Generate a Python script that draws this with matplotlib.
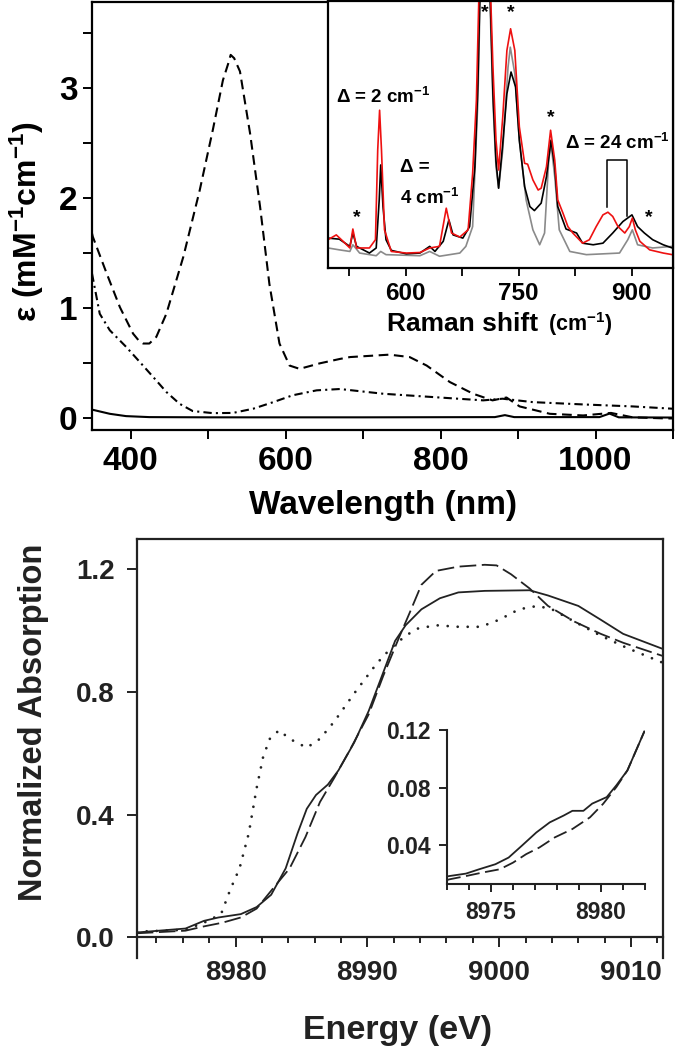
import matplotlib
matplotlib.use("Agg")
import matplotlib.pyplot as plt

plt.rcParams['font.family'] = ['Liberation Sans', 'DejaVu Sans']
plt.rcParams['font.weight'] = 'bold'
plt.rcParams['mathtext.fontset'] = 'custom'
plt.rcParams['mathtext.rm'] = 'Liberation Sans:bold'
plt.rcParams['mathtext.it'] = 'Liberation Sans:bold'
plt.rcParams['mathtext.bf'] = 'Liberation Sans:bold'
plt.rcParams['mathtext.default'] = 'rm'
plt.rcParams['lines.scale_dashes'] = False

# ---------------- UV-vis data (top) ----------------
uv_dash_x = [350, 351, 369, 386, 403, 410, 416, 424, 433, 446, 468, 489, 506, 519, 525.8, 529, 533.5, 541, 554,
             567, 579, 592, 605, 618, 644, 670, 683, 734, 760, 782, 812, 842, 867, 885, 902, 941, 984, 1020,
             1048, 1091, 1100]
uv_dash_y = [1.68, 1.65, 1.315, 1.01, 0.77, 0.71, 0.68, 0.68, 0.74, 0.95, 1.47, 2.07, 2.62, 3.07, 3.22, 3.30,
             3.27, 3.15, 2.59, 1.92, 1.22, 0.68, 0.48, 0.45, 0.50, 0.54, 0.557, 0.579, 0.557, 0.48, 0.33,
             0.224, 0.164, 0.19, 0.109, 0.042, 0.027, 0.05, 0.01, 0.0, 0.0]
uv_dashdot_x = [350, 360, 373, 394, 412, 429, 446, 463, 480, 506, 532, 558, 584, 609, 640, 670, 726, 790, 855,
                880, 919, 984, 1048, 1100]
uv_dashdot_y = [1.315, 0.95, 0.80, 0.65, 0.51, 0.376, 0.24, 0.133, 0.067, 0.048, 0.05, 0.088, 0.148, 0.21,
                0.255, 0.267, 0.224, 0.194, 0.164, 0.179, 0.148, 0.127, 0.109, 0.088]
uv_solid_x = [350, 373, 394, 424, 500, 700, 870, 883, 895, 1005, 1018, 1030, 1100]
uv_solid_y = [0.08, 0.042, 0.021, 0.012, 0.01, 0.01, 0.012, 0.03, 0.012, 0.012, 0.044, 0.01, 0.008]

# ---------------- Raman inset data ----------------
raman_gray_x = [497, 512, 526, 530, 535, 539, 561, 567, 574, 619, 632, 645, 672, 680, 689, 696, 700, 704, 708,
                712, 716, 720, 723.5, 729, 736, 739, 745, 751, 760, 769, 778, 784.5, 790, 793, 798, 804, 818,
                840, 884, 895, 901, 908, 928, 954]
raman_gray_y = [7.5, 6.8, 6.2, 8.7, 7.0, 5.6, 4.6, 6.2, 5.0, 4.6, 6.2, 4.4, 5.6, 8.1, 15.5, 62.8, 115, 140, 130,
                100, 62, 38, 29.9, 44.2, 75.2, 82.7, 72.8, 47.9, 25.5, 14.3, 8.7, 13.1, 40.4, 46.6, 34.2, 14.3,
                6.2, 5.0, 5.6, 10.6, 14.3, 8.7, 7.5, 8.1]
raman_black_x = [497, 512, 526, 530, 535, 552, 561, 565, 567, 570, 574, 581, 601, 619, 632, 639, 650, 657.5, 663,
                 676, 685, 692, 696, 700, 704, 708, 712, 716, 720, 723.5, 729, 734.5, 740, 746, 751, 758, 765,
                 771, 780, 787, 793, 798, 802, 813, 827, 835, 849, 862, 875, 888.5, 900.5, 908, 917, 928, 942, 954]
raman_black_y = [11.2, 10.8, 8.1, 13.1, 8.1, 5.6, 7.5, 25.5, 38.6, 23, 10.6, 6.6, 5.3, 5.6, 8.1, 6.2, 10, 18, 12.4,
                 11.2, 15.5, 37.9, 69, 120, 145, 135, 105, 65, 40, 29.9, 46.6, 65.3, 73.4, 67.8, 47.9, 30.5, 23,
                 21.5, 24.3, 34.2, 47.9, 37.9, 23, 14.6, 13.1, 9.3, 8.7, 9.3, 13.1, 17.4, 19.9, 15.5, 13.1, 10.6,
                 8.7, 7.5]
raman_red_x = [497, 508, 517, 526, 530, 535, 552, 560, 563, 565.5, 568, 572, 581, 601, 619, 632, 645, 654, 661,
               672, 683, 689, 694, 698, 703, 708, 712, 716, 720, 723.5, 729, 734.5, 739.4, 745, 751, 758, 762,
               769, 776, 780, 787, 792.5, 798, 802, 809, 815.5, 822, 835, 844, 853, 862, 868.6, 875, 882, 891,
               897, 901, 905, 911, 924, 942, 954]
raman_red_y = [10.6, 12.4, 10, 7.5, 14.6, 7.5, 7.5, 10.6, 44.2, 59.1, 44.2, 14.3, 6.2, 5.6, 5.8, 7.5, 8.1, 22.4,
               13.1, 11.6, 14.3, 35.4, 62.8, 110, 150, 140, 110, 75, 48, 36.7, 56.6, 81.5, 89.6, 81.5, 52.9, 39.2,
               38.9, 33, 29.2, 29.9, 37.9, 51.6, 40.4, 25.5, 20.5, 15.5, 13.1, 9.3, 10.6, 15.5, 19.9, 20.9, 19.3,
               15.5, 13.1, 15.5, 18.7, 14.3, 10, 6.8, 5.6, 5.0]
raman_ticks = [600, 750, 900]
raman_minor = [525, 675, 825]
star_x = [534.6, 704.9, 739, 792.5, 923]
star_y = [18.7, 95.5, 95.5, 56.2, 18.7]
bracket_x = [868, 868, 894.5, 894.5]
bracket_y = [22.8, 40.4, 40.4, 19.5]

# ---------------- XANES data (bottom) ----------------
xas_solid_x = [8972.5, 8972.75, 8976.2, 8977.6, 8978.7, 8980.4, 8981.6, 8982.7, 8983.8, 8984.7, 8985.4, 8986.1,
               8987.0, 8987.8, 8989.0, 8990.1, 8991.2, 8992.1, 8992.9, 8994.1, 8995.5, 8996.9, 8998.9, 9002.3,
               9003.7, 9006.0, 9007.7, 9009.4, 9012.4]
xas_solid_y = [0.017, 0.017, 0.029, 0.054, 0.065, 0.076, 0.099, 0.139, 0.225, 0.339, 0.419, 0.464, 0.498,
               0.544, 0.635, 0.738, 0.863, 0.966, 1.017, 1.069, 1.105, 1.124, 1.129, 1.131, 1.114, 1.080,
               1.035, 0.989, 0.94]
xas_dash_x = [8972.5, 8972.75, 8976.2, 8977.6, 8979.0, 8980.4, 8981.6, 8983.0, 8984.1, 8985.3, 8986.4, 8987.5,
              8988.7, 8990.1, 8991.2, 8992.4, 8993.2, 8994.1, 8995.2, 8996.9, 8998.9, 8999.8, 9000.9, 9002.3,
              9003.7, 9005.7, 9007.7, 9009.4, 9012.4]
xas_dash_y = [0.014, 0.014, 0.022, 0.036, 0.048, 0.065, 0.094, 0.168, 0.225, 0.327, 0.441, 0.521, 0.613,
              0.727, 0.852, 0.977, 1.057, 1.149, 1.194, 1.208, 1.214, 1.212, 1.183, 1.137, 1.080, 1.029,
              0.989, 0.960, 0.917]
xas_dot_x = [8972.5, 8972.75, 8976.2, 8977.6, 8978.9, 8979.6, 8980.3, 8981.0, 8981.6, 8982.1, 8982.6, 8983.3,
             8984.1, 8985.4, 8986.4, 8987.5, 8989.0, 8990.7, 8991.8, 8992.9, 8993.8, 8995.2, 8996.9, 8998.6,
             9000.0, 9001.5, 9002.9, 9004.0, 9005.7, 9007.7, 9009.7, 9012.4]
xas_dot_y = [0.019, 0.019, 0.025, 0.048, 0.076, 0.156, 0.225, 0.339, 0.487, 0.590, 0.647, 0.675, 0.647,
             0.618, 0.647, 0.704, 0.795, 0.892, 0.943, 0.983, 1.006, 1.017, 1.012, 1.012, 1.035, 1.069,
             1.080, 1.069, 1.029, 0.983, 0.943, 0.895]
pre_solid_x = [8973.0, 8973.1, 8973.86, 8974.46, 8975.2, 8975.8, 8976.4, 8977.06, 8977.67, 8978.3, 8978.7,
               8979.2, 8979.6, 8980.26, 8980.7, 8981.2, 8981.6, 8981.97]
pre_solid_y = [0.0185, 0.0188, 0.0205, 0.0235, 0.027, 0.0316, 0.0398, 0.049, 0.056, 0.0607, 0.064, 0.064,
               0.069, 0.0735, 0.0817, 0.092, 0.106, 0.119]
pre_dash_x = [8973.0, 8973.1, 8973.86, 8974.6, 8975.4, 8976.0, 8976.6, 8977.2, 8977.9, 8978.7, 8979.5, 8980.1,
              8980.7, 8981.2, 8981.6, 8981.97]
pre_dash_y = [0.016, 0.0165, 0.0188, 0.0212, 0.0235, 0.0281, 0.034, 0.0386, 0.0456, 0.0514, 0.0595, 0.0689,
              0.0805, 0.092, 0.106, 0.119]

W, H = 675, 1050
fig = plt.figure(figsize=(6.75, 10.5), dpi=100)


def fx(px):
    return px / W


def fy(py):
    return 1 - py / H


def rect(l, t, r, b):
    return [fx(l), fy(b), fx(r) - fx(l), fy(t) - fy(b)]


# ---------------- top main axes ----------------
ax1 = fig.add_axes(rect(92, 2, 673, 430))
ax1.plot(uv_dash_x, uv_dash_y, color='black', lw=1.5, dashes=(7, 4))
ax1.plot(uv_dashdot_x, uv_dashdot_y, color='black', lw=1.5, dashes=(6, 3, 1.5, 3))
ax1.plot(uv_solid_x, uv_solid_y, color='black', lw=1.5)
ax1.set_xlim(350, 1100)
ax1.set_ylim(-0.105, 3.78)
ax1.set_xticks([400, 600, 800, 1000])
ax1.set_xticks([500, 700, 900, 1100], minor=True)
ax1.set_yticks([0, 1, 2, 3])
ax1.set_yticks([0.5, 1.5, 2.5, 3.5], minor=True)
ax1.tick_params(axis='both', which='major', direction='out', length=6.5, width=1.4, labelsize=24)
ax1.tick_params(axis='both', which='minor', direction='out', length=6.5, width=1.4)
ax1.tick_params(axis='x', pad=5)
ax1.tick_params(axis='y', pad=4)
for s in ax1.spines.values():
    s.set_linewidth(1.6)
fig.text(fx(383), fy(505), 'Wavelength (nm)', ha='center', va='center', fontsize=24, fontweight='bold')
fig.text(fx(27), fy(222), 'ε (mM$^{-1}$cm$^{-1}$)', ha='center', va='center', rotation=90,
         fontsize=23, fontweight='bold')

# ---------------- top inset (Raman) ----------------
ax2 = fig.add_axes(rect(328, 1, 673, 268))
ax2.plot(raman_gray_x, raman_gray_y, color='#8a8a8a', lw=1.2)
ax2.plot(raman_black_x, raman_black_y, color='black', lw=1.2)
ax2.plot(raman_red_x, raman_red_y, color='#ee1111', lw=1.2)
ax2.plot(bracket_x, bracket_y, color='black', lw=1.1)
ax2.set_xlim(497, 955)
ax2.set_ylim(0, 100)
ax2.set_xticks(raman_ticks)
ax2.set_xticks(raman_minor, minor=True)
ax2.set_yticks([])
ax2.tick_params(axis='x', which='both', direction='out', length=6, width=1.3, labelsize=17.5, pad=4)
for s in ax2.spines.values():
    s.set_linewidth(1.6)
for sx, sy in zip(star_x, star_y):
    ax2.text(sx, sy, '*', ha='center', va='center', fontsize=14, fontweight='bold')
ax2.text(508, 64, 'Δ = 2 cm$^{-1}$', ha='left', va='center', fontsize=13.5, fontweight='bold')
ax2.text(592, 37.8, 'Δ =', ha='left', va='center', fontsize=13.5, fontweight='bold')
ax2.text(592, 26.2, '4 cm$^{-1}$', ha='left', va='center', fontsize=13.5, fontweight='bold')
ax2.text(812, 46.8, 'Δ = 24 cm$^{-1}$', ha='left', va='center', fontsize=13.5, fontweight='bold')
fig.text(fx(387), fy(324), 'Raman shift', ha='left', va='center', fontsize=19, fontweight='bold')
fig.text(fx(548), fy(324), '(cm$^{-1}$)', ha='left', va='center', fontsize=15.5, fontweight='bold')

# ---------------- bottom main axes (XANES) ----------------
dark = '#222222'
ax3 = fig.add_axes(rect(136.7, 539, 662.7, 958))
ax3.plot(xas_solid_x, xas_solid_y, color=dark, lw=1.3)
ax3.plot(xas_dash_x, xas_dash_y, color=dark, lw=1.3, dashes=(12, 4))
ax3.plot(xas_dot_x, xas_dot_y, color=dark, lw=2.0, dashes=(0.01, 7.2), dash_capstyle='round')
ax3.set_xlim(8972.5, 9012.4)
ax3.set_ylim(-0.067, 1.298)
ax3.spines['bottom'].set_position(('data', 0))
ax3.set_xticks([8980, 8990, 9000, 9010])
ax3.set_xticks([8974, 8976, 8978, 8982, 8984, 8986, 8988, 8992, 8994, 8996, 8998, 9002, 9004, 9006, 9008, 9012],
               minor=True)
ax3.set_yticks([0.0, 0.4, 0.8, 1.2])
ax3.set_yticklabels(['0.0', '0.4', '0.8', '1.2'])
ax3.tick_params(axis='both', which='major', direction='out', length=7, width=1.4, labelsize=20,
                colors=dark)
ax3.tick_params(axis='x', which='minor', direction='out', length=4, width=1.4, colors=dark)
ax3.tick_params(axis='x', pad=9)
ax3.tick_params(axis='y', pad=9)
for s in ax3.spines.values():
    s.set_linewidth(1.6)
    s.set_color(dark)
fig.text(fx(398), fy(1030), 'Energy (eV)', ha='center', va='center', fontsize=24.5, fontweight='bold', color=dark)
fig.text(fx(34), fy(722), 'Normalized Absorption', ha='center', va='center', rotation=90,
         fontsize=23.5, fontweight='bold', color=dark)

# ---------------- bottom inset (pre-edge) ----------------
ax4 = fig.add_axes(rect(447, 730, 645, 884))
ax4.plot(pre_solid_x, pre_solid_y, color=dark, lw=1.3)
ax4.plot(pre_dash_x, pre_dash_y, color=dark, lw=1.3, dashes=(10, 4))
ax4.set_xlim(8973, 8982)
ax4.set_ylim(0.0133, 0.12)
ax4.set_xticks([8975, 8980])
ax4.set_xticks([8973, 8974, 8976, 8977, 8978, 8979, 8981, 8982], minor=True)
ax4.set_yticks([0.04, 0.08, 0.12])
ax4.set_yticklabels(['0.04', '0.08', '0.12'])
ax4.spines['top'].set_visible(False)
ax4.spines['right'].set_visible(False)
for s in ax4.spines.values():
    s.set_linewidth(1.5)
    s.set_color(dark)
ax4.patch.set_alpha(0)
ax4.tick_params(axis='both', which='major', direction='out', length=6, width=1.4, labelsize=16.5,
                colors=dark, pad=6)
ax4.tick_params(axis='x', which='minor', direction='out', length=4, width=1.4, colors=dark)

fig.savefig('out.png', dpi=100)
